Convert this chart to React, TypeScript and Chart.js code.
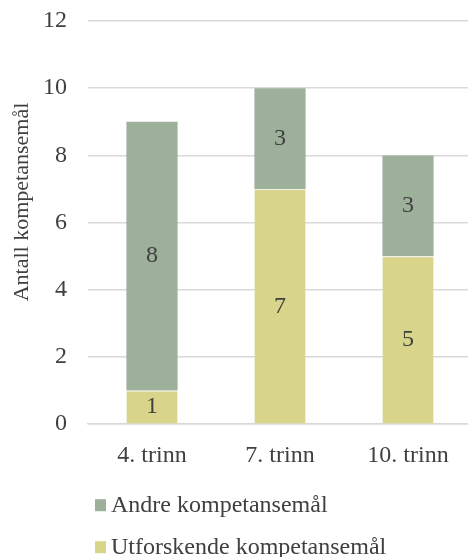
import React, { useEffect, useRef } from "react";
import { Chart, registerables } from "chart.js";

Chart.register(...registerables);

const categories = ["4. trinn", "7. trinn", "10. trinn"];
const utforskende = [1, 7, 5];
const andre = [8, 3, 3];
const seriesNames = ["Utforskende kompetansemål", "Andre kompetansemål"];
const yTicks = [0, 2, 4, 6, 8, 10, 12];
const yTitle = "Antall kompetansemål";

const FONT = "'Liberation Serif', 'Times New Roman', serif";
const TEXT = "#404040";
const COLORS = ["#d8d58a", "#9cb09a"];
const FS = 24;

const dataLabels = {
  id: "dataLabels",
  afterDatasetsDraw(chart: any) {
    const ctx = chart.ctx;
    ctx.save();
    ctx.font = `${FS}px ${FONT}`;
    ctx.fillStyle = TEXT;
    ctx.textAlign = "center";
    ctx.textBaseline = "middle";
    chart.data.datasets.forEach((ds: any, i: number) => {
      const meta = chart.getDatasetMeta(i);
      meta.data.forEach((bar: any, j: number) => {
        const v = ds.data[j];
        const mid = (bar.y + bar.base) / 2;
        ctx.fillText(String(v), bar.x, mid);
      });
    });
    ctx.restore();
  },
};

const yTitlePlugin = {
  id: "yTitlePlugin",
  afterDraw(chart: any) {
    const ctx = chart.ctx;
    ctx.save();
    ctx.font = `22px ${FONT}`;
    ctx.fillStyle = TEXT;
    ctx.textAlign = "center";
    ctx.textBaseline = "alphabetic";
    ctx.translate(28, 202);
    ctx.rotate(-Math.PI / 2);
    ctx.fillText(yTitle, 0, 0);
    ctx.restore();
  },
};

const customLegend = {
  id: "customLegend",
  afterDraw(chart: any) {
    const ctx = chart.ctx;
    const area = chart.chartArea;
    ctx.save();
    ctx.font = `${FS}px ${FONT}`;
    ctx.textBaseline = "middle";
    ctx.textAlign = "left";
    const items = chart.data.datasets.map((d: any, i: number) => ({ label: d.label, color: d.backgroundColor, i })).reverse();
    items.forEach((it: any, k: number) => {
      const y = area.bottom + 82 + k * 42;
      ctx.fillStyle = it.color;
      ctx.fillRect(95, y - 7, 11, 12);
      ctx.fillStyle = TEXT;
      ctx.fillText(it.label, 111, y);
    });
    ctx.restore();
  },
};

export default function App() {
  const ref = useRef<HTMLCanvasElement>(null);
  useEffect(() => {
    if (!ref.current) return;
    const chart = new Chart(ref.current, {
      type: "bar",
      data: {
        labels: categories,
        datasets: [
          { label: seriesNames[0], data: utforskende, backgroundColor: COLORS[0], borderColor: "#f4f4e4", borderWidth: { top: 1, left: 0, right: 0, bottom: 0 }, borderSkipped: false },
          { label: seriesNames[1], data: andre, backgroundColor: COLORS[1], borderColor: COLORS[1], borderWidth: 0 },
        ],
      },
      options: {
        animation: false,
        responsive: false,
        maintainAspectRatio: false,
        layout: { padding: { top: 21, right: 0, bottom: 70, left: 0 } },
        plugins: { legend: { display: false }, tooltip: { enabled: false } },
        datasets: { bar: { categoryPercentage: 1, barPercentage: 0.4 } },
        scales: {
          x: {
            stacked: true,
            grid: { display: false, drawTicks: false },
            border: { display: true, color: "#d9d9d9", width: 1.5 },
            ticks: { color: TEXT, font: { family: FONT, size: FS }, padding: 17 },
          },
          y: {
            stacked: true,
            min: 0,
            max: 12,
            afterBuildTicks(scale: any) {
              scale.ticks = yTicks.map((v) => ({ value: v }));
            },
            afterFit(scale: any) {
              scale.width = 88;
              scale.paddingTop = 0;
              scale.paddingBottom = 0;
            },
            grid: { color: "#d9d9d9", lineWidth: 1.5, drawTicks: false },
            border: { display: false },
            ticks: { color: TEXT, font: { family: FONT, size: FS }, padding: 21 },
            title: { display: false, text: yTitle },
          },
        },
      },
      plugins: [dataLabels, yTitlePlugin, customLegend],
    });
    return () => chart.destroy();
  }, []);
  return (
    <div style={{ position: "fixed", left: 0, top: 0, width: 472, height: 557 }}>
      <canvas ref={ref} width={472} height={557} style={{ display: "block" }} />
    </div>
  );
}
